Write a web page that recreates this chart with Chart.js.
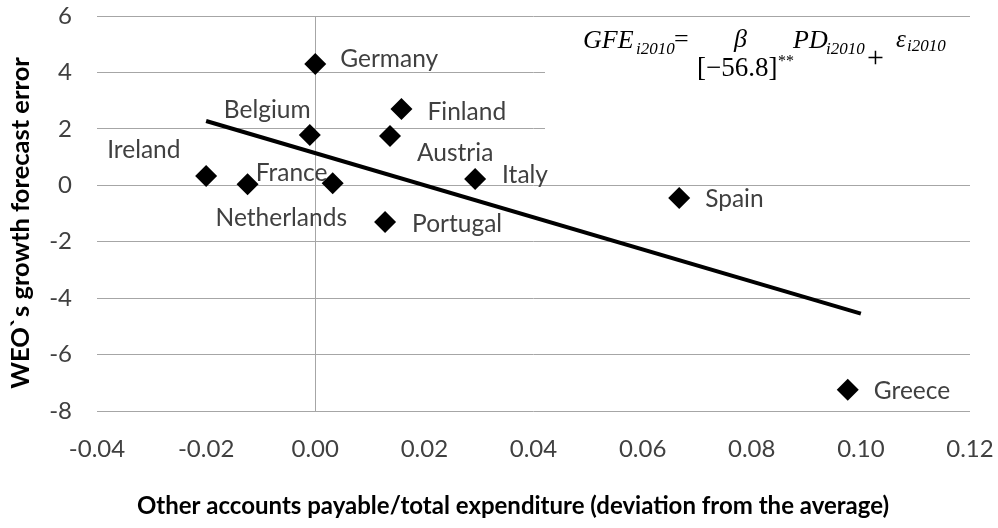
<!DOCTYPE html>
<html>
<head>
<meta charset="utf-8">
<script src="https://cdn.jsdelivr.net/npm/chart.js@4.4.1/dist/chart.umd.min.js"></script>
<style>
  html, body { margin: 0; padding: 0; background: #fff; }
  #wrap { width: 998px; height: 528px; }
</style>
</head>
<body>
<div id="wrap"><canvas id="chartPayables"></canvas></div>
<script>
// values
const countries = ["Germany", "Belgium", "Finland", "Austria", "Ireland", "Netherlands", "France", "Italy", "Portugal", "Spain", "Greece"];
const payables = [0.0000, -0.0010, 0.0158, 0.0137, -0.0200, -0.0124, 0.0032, 0.0293, 0.0128, 0.0667, 0.0976];
const forecastErrors = [4.30, 1.78, 2.70, 1.75, 0.33, 0.04, 0.07, 0.22, -1.30, -0.45, -7.25];
const trendX = [-0.02, 0.10];
const trendY = [2.28, -4.55];
const xTicks = [-0.04, -0.02, 0.00, 0.02, 0.04, 0.06, 0.08, 0.10, 0.12];
const yTicks = [-8, -6, -4, -2, 0, 2, 4, 6];
const xTitle = "Other accounts payable/total expenditure (deviation from the average)";
const yTitle = "WEO`s growth forecast error";

// label placement (pixels from the marker: left edge, middle)
const labelOffsets = [[25, -5], [-86, -25], [26, 3], [27, 17], [-99, -26], [-32, 34], [-77, -10], [27, -4], [27, 2], [26, 1], [26, 1]];

const TEXT = "#404040";
const SANS = "Lato, 'Open Sans', sans-serif";
const SERIF = "'Liberation Serif', 'DejaVu Serif', serif";

const countryLabels = {
  id: "countryLabels",
  afterDatasetsDraw(chart) {
    const { ctx, scales: { x, y } } = chart;
    ctx.save();
    ctx.font = `24.5px ${SANS}`;
    ctx.fillStyle = TEXT;
    ctx.textAlign = "left";
    ctx.textBaseline = "middle";
    countries.forEach((name, i) => {
      const px = x.getPixelForValue(payables[i]);
      const py = y.getPixelForValue(forecastErrors[i]);
      ctx.fillText(name, px + labelOffsets[i][0], py + labelOffsets[i][1]);
    });
    ctx.restore();
  },
};

// axis titles, placed like the original (centred on the whole figure)
const axisTitles = {
  id: "axisTitles",
  afterDraw(chart) {
    const { ctx } = chart;
    ctx.save();
    ctx.fillStyle = "#000";
    ctx.textAlign = "center";
    ctx.textBaseline = "middle";
    ctx.font = `bold 24px ${SANS}`;
    ctx.fillText(xTitle, 513, 506);
    ctx.translate(21, 223);
    ctx.rotate(-Math.PI / 2);
    ctx.font = `bold 25.5px ${SANS}`;
    ctx.fillText(yTitle, 0, 0);
    ctx.restore();
  },
};

// regression equation in a white box over the upper right grid
const equationBox = {
  id: "equationBox",
  beforeDatasetsDraw(chart) {
    const { ctx, chartArea } = chart;
    ctx.save();
    ctx.fillStyle = "#fff";
    ctx.fillRect(545, chartArea.top + 3, chartArea.right - 545 + 2, 125);
    ctx.fillStyle = "#000";
    ctx.textBaseline = "alphabetic";
    const put = (txt, px, py, font) => { ctx.font = font; ctx.fillText(txt, px, py); };
    put("GFE", 583, 48, `italic 26px ${SERIF}`);
    put("i2010", 636, 54, `italic 17px ${SERIF}`);
    put("=", 674, 47, `26px ${SERIF}`);
    put("β", 734, 47, `italic 26px ${SERIF}`);
    put("PD", 793, 48, `italic 26px ${SERIF}`);
    put("i2010", 826, 54, `italic 17px ${SERIF}`);
    put("+", 867, 67, `30px ${SERIF}`);
    put("ε", 896, 47, `italic 25px ${SERIF}`);
    put("i2010", 907, 51, `italic 17px ${SERIF}`);
    put("[−56.8]", 697, 76, `27px ${SERIF}`);
    put("**", 778, 66, `16px ${SERIF}`);
    ctx.restore();
  },
};

new Chart(document.getElementById("chartPayables").getContext("2d"), {
  type: "scatter",
  data: {
    datasets: [
      {
        label: "Countries",
        data: payables.map((v, i) => ({ x: v, y: forecastErrors[i] })),
        pointStyle: "rectRot",
        pointRadius: 11,
        pointHoverRadius: 11,
        backgroundColor: "#000",
        borderColor: "#000",
        borderWidth: 0,
      },
      {
        type: "line",
        label: "Trend",
        data: trendX.map((v, i) => ({ x: v, y: trendY[i] })),
        borderColor: "#000",
        borderWidth: 4,
        pointRadius: 0,
        fill: false,
      },
    ],
  },
  options: {
    responsive: true,
    maintainAspectRatio: false,
    animation: false,
    layout: { padding: { top: 16, right: 28, left: 0, bottom: 0 } },
    plugins: { legend: { display: false }, tooltip: { enabled: false } },
    scales: {
      x: {
        type: "linear",
        min: -0.04,
        max: 0.12,
        afterBuildTicks: (s) => { s.ticks = xTicks.map((v) => ({ value: v })); },
        afterFit: (s) => { s.height = 117; s.paddingLeft = 0; s.paddingRight = 0; },
        ticks: {
          color: TEXT,
          font: { family: SANS, size: 24 },
          padding: 24,
          callback: (v) => v.toFixed(2),
        },
        grid: {
          drawTicks: false,
          lineWidth: 1,
          color: (c) => (c.tick && c.tick.value === 0 ? "#a6a6a6" : "rgba(0,0,0,0)"),
        },
        border: { display: false },
      },
      y: {
        min: -8,
        max: 6,
        afterBuildTicks: (s) => { s.ticks = yTicks.map((v) => ({ value: v })); },
        afterFit: (s) => { s.width = 97; s.paddingTop = 0; s.paddingBottom = 0; },
        ticks: {
          color: TEXT,
          font: { family: SANS, size: 24 },
          padding: 25,
        },
        grid: { drawTicks: false, color: "#a6a6a6", lineWidth: 1 },
        border: { display: false },
      },
    },
  },
  plugins: [equationBox, countryLabels, axisTitles],
});
</script>
</body>
</html>
